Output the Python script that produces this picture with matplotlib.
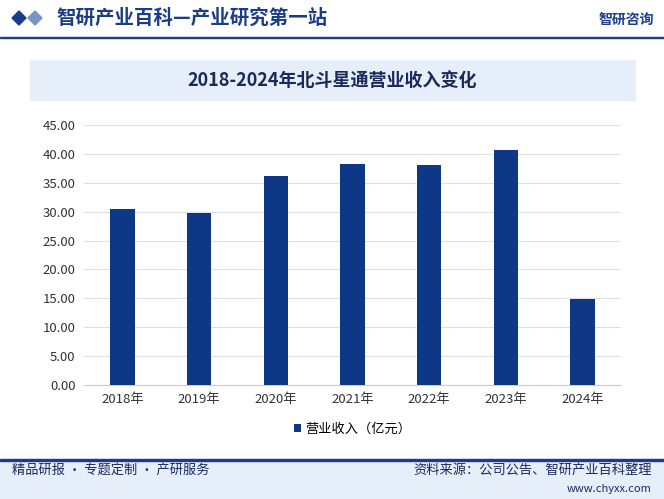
import matplotlib
matplotlib.use("Agg")
import matplotlib.pyplot as plt
from matplotlib.patches import Rectangle, Polygon

plt.rcParams['font.family'] = 'Noto Sans CJK SC'

categories = ["2018年", "2019年", "2020年", "2021年", "2022年", "2023年", "2024年"]
values = [30.4, 29.7, 36.1, 38.3, 38.0, 40.7, 14.8]
yticks = [0, 5, 10, 15, 20, 25, 30, 35, 40, 45]

W, H = 664, 499
fig = plt.figure(figsize=(W/100, H/100), dpi=100)
bar_color = "#0E3886"

# header
fig.text(0.085, 1-18/H, "智研产业百科—产业研究第一站", fontsize=14, fontweight='bold',
         color="#1A3C8A", va='center')
for dx in (12, 28):
    fig.patches.append(Polygon([[(dx)/W, 1-18/H], [(dx+7)/W, 1-11/H], [(dx+14)/W, 1-18/H], [(dx+7)/W, 1-25/H]],
                               closed=True, transform=fig.transFigure, color="#1A3C8A" if dx == 12 else "#7A92C6"))
fig.text(0.985, 1-20/H, "智研咨询", fontsize=10, color="#1A3C8A", ha='right', va='center', fontweight='bold')
fig.patches.append(Rectangle((0, 1-38/H), 1, 1.5/H, transform=fig.transFigure, color="#1A3C8A"))

# title band
fig.patches.append(Rectangle((30/W, 1-100/H), 605/W, 40/H, transform=fig.transFigure, color="#E6EEFA"))
fig.text(0.5, 1-80/H, "2018-2024年北斗星通营业收入变化", fontsize=13, fontweight='bold',
         color="#1A2A5A", ha='center', va='center')

# footer
fig.patches.append(Rectangle((0, 0), 1, 38/H, transform=fig.transFigure, color="#E6EEFA"))
fig.patches.append(Rectangle((0, 38/H), 1, 2/H, transform=fig.transFigure, color="#1A3C8A"))
fig.text(12/W, 1-470/H, "精品研报 · 专题定制 · 产研服务", fontsize=9.5, color="#1A2A5A", va='center')
fig.text(652/W, 1-470/H, "资料来源：公司公告、智研产业百科整理", fontsize=9.5, color="#1A2A5A", ha='right', va='center')
fig.text(652/W, 1-489/H, "www.chyxx.com", fontsize=8, color="#1A2A5A", ha='right', va='center')

ax = fig.add_axes([84/W, 1-385/H, 537/W, 260/H])
x = range(len(categories))
ax.bar(x, values, width=0.32, color=bar_color, zorder=3, label="营业收入（亿元）")
ax.set_xticks(list(x))
ax.set_xticklabels(categories, fontsize=9.5, color="#333333")
ax.set_yticks(yticks)
ax.set_yticklabels([f"{v:.2f}" for v in yticks], fontsize=9.5, color="#333333")
ax.set_ylim(0, 45)
ax.set_xlim(-0.5, 6.5)
ax.grid(axis='y', color="#E0E0E0", linewidth=0.8, zorder=0)
for s in ax.spines.values():
    s.set_visible(False)
ax.spines['bottom'].set_visible(True)
ax.spines['bottom'].set_color("#CCCCCC")
ax.tick_params(length=0, pad=6)
ax.legend(loc='upper center', bbox_to_anchor=(0.5, -0.1), frameon=False, fontsize=9.5,
          handlelength=0.6, handleheight=0.6, handletextpad=0.3)

fig.savefig("out.png", dpi=100)
